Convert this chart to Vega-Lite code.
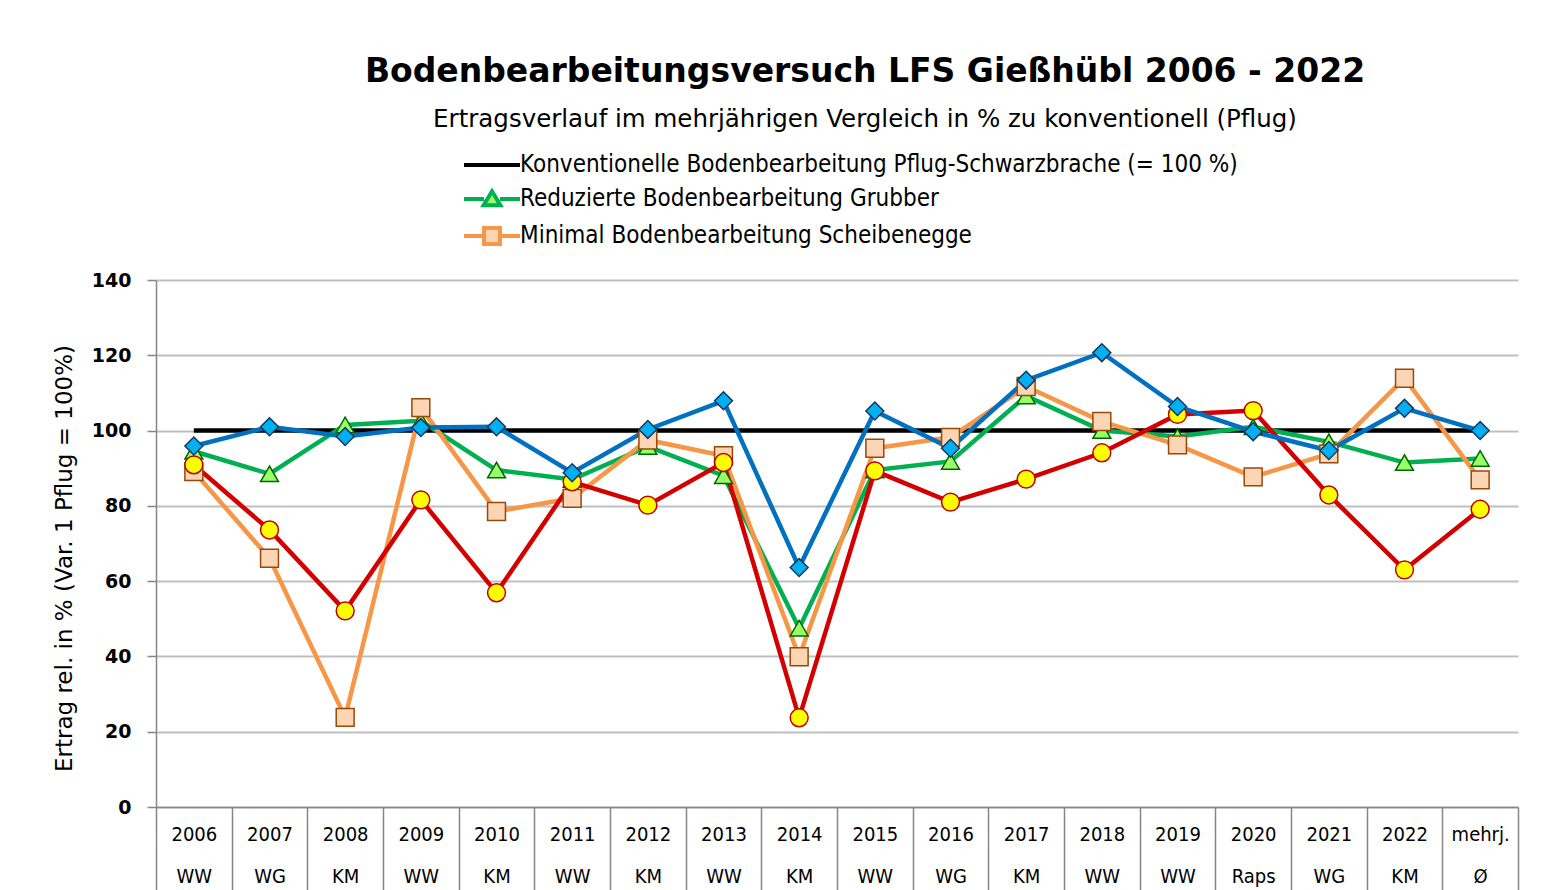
{
  "$schema": "https://vega.github.io/schema/vega-lite/v6.json",
  "width": 1362,
  "height": 527,
  "autosize": {"type": "none"},
  "padding": {"left": 156, "top": 280, "right": 39, "bottom": 83},
  "background": "white",
  "title": {
    "text": "Bodenbearbeitungsversuch LFS Gießhübl 2006 - 2022",
    "subtitle": "Ertragsverlauf im mehrjährigen Vergleich in % zu konventionell (Pflug)",
    "frame": "group",
    "anchor": "middle",
    "dx": 28,
    "offset": 18,
    "font": "DejaVu Sans",
    "fontSize": 33,
    "fontWeight": "bold",
    "color": "#000000",
    "subtitleFont": "DejaVu Sans",
    "subtitleFontSize": 24.5,
    "subtitleColor": "#000000",
    "subtitlePadding": 19
  },
  "data": {"values": [
    {"jahr": "2006", "kultur": "WW", "serie": "K", "wert": 100},
    {"jahr": "2007", "kultur": "WG", "serie": "K", "wert": 100},
    {"jahr": "2008", "kultur": "KM", "serie": "K", "wert": 100},
    {"jahr": "2009", "kultur": "WW", "serie": "K", "wert": 100},
    {"jahr": "2010", "kultur": "KM", "serie": "K", "wert": 100},
    {"jahr": "2011", "kultur": "WW", "serie": "K", "wert": 100},
    {"jahr": "2012", "kultur": "KM", "serie": "K", "wert": 100},
    {"jahr": "2013", "kultur": "WW", "serie": "K", "wert": 100},
    {"jahr": "2014", "kultur": "KM", "serie": "K", "wert": 100},
    {"jahr": "2015", "kultur": "WW", "serie": "K", "wert": 100},
    {"jahr": "2016", "kultur": "WG", "serie": "K", "wert": 100},
    {"jahr": "2017", "kultur": "KM", "serie": "K", "wert": 100},
    {"jahr": "2018", "kultur": "WW", "serie": "K", "wert": 100},
    {"jahr": "2019", "kultur": "WW", "serie": "K", "wert": 100},
    {"jahr": "2020", "kultur": "Raps", "serie": "K", "wert": 100},
    {"jahr": "2021", "kultur": "WG", "serie": "K", "wert": 100},
    {"jahr": "2022", "kultur": "KM", "serie": "K", "wert": 100},
    {"jahr": "mehrj.", "kultur": "Ø", "serie": "K", "wert": 100},

    {"jahr": "2006", "kultur": "WW", "serie": "G", "wert": 94.5},
    {"jahr": "2007", "kultur": "WG", "serie": "G", "wert": 88.5},
    {"jahr": "2008", "kultur": "KM", "serie": "G", "wert": 101.5},
    {"jahr": "2009", "kultur": "WW", "serie": "G", "wert": 102.6},
    {"jahr": "2010", "kultur": "KM", "serie": "G", "wert": 89.5},
    {"jahr": "2011", "kultur": "WW", "serie": "G", "wert": 87},
    {"jahr": "2012", "kultur": "KM", "serie": "G", "wert": 95.8},
    {"jahr": "2013", "kultur": "WW", "serie": "G", "wert": 88},
    {"jahr": "2014", "kultur": "KM", "serie": "G", "wert": 47.5},
    {"jahr": "2015", "kultur": "WW", "serie": "G", "wert": 89.5},
    {"jahr": "2016", "kultur": "WG", "serie": "G", "wert": 91.8},
    {"jahr": "2017", "kultur": "KM", "serie": "G", "wert": 109.2},
    {"jahr": "2018", "kultur": "WW", "serie": "G", "wert": 100},
    {"jahr": "2019", "kultur": "WW", "serie": "G", "wert": 98.4},
    {"jahr": "2020", "kultur": "Raps", "serie": "G", "wert": 101},
    {"jahr": "2021", "kultur": "WG", "serie": "G", "wert": 97},
    {"jahr": "2022", "kultur": "KM", "serie": "G", "wert": 91.5},
    {"jahr": "mehrj.", "kultur": "Ø", "serie": "G", "wert": 92.6},

    {"jahr": "2006", "kultur": "WW", "serie": "S", "wert": 89.1},
    {"jahr": "2007", "kultur": "WG", "serie": "S", "wert": 66.1},
    {"jahr": "2008", "kultur": "KM", "serie": "S", "wert": 23.8},
    {"jahr": "2009", "kultur": "WW", "serie": "S", "wert": 106.1},
    {"jahr": "2010", "kultur": "KM", "serie": "S", "wert": 78.5},
    {"jahr": "2011", "kultur": "WW", "serie": "S", "wert": 82},
    {"jahr": "2012", "kultur": "KM", "serie": "S", "wert": 97.5},
    {"jahr": "2013", "kultur": "WW", "serie": "S", "wert": 93.3},
    {"jahr": "2014", "kultur": "KM", "serie": "S", "wert": 39.9},
    {"jahr": "2015", "kultur": "WW", "serie": "S", "wert": 95.3},
    {"jahr": "2016", "kultur": "WG", "serie": "S", "wert": 98.2},
    {"jahr": "2017", "kultur": "KM", "serie": "S", "wert": 111.7},
    {"jahr": "2018", "kultur": "WW", "serie": "S", "wert": 102.4},
    {"jahr": "2019", "kultur": "WW", "serie": "S", "wert": 96.2},
    {"jahr": "2020", "kultur": "Raps", "serie": "S", "wert": 87.7},
    {"jahr": "2021", "kultur": "WG", "serie": "S", "wert": 93.8},
    {"jahr": "2022", "kultur": "KM", "serie": "S", "wert": 113.9},
    {"jahr": "mehrj.", "kultur": "Ø", "serie": "S", "wert": 86.9},

    {"jahr": "2006", "kultur": "WW", "serie": "V4", "wert": 90.9},
    {"jahr": "2007", "kultur": "WG", "serie": "V4", "wert": 73.6},
    {"jahr": "2008", "kultur": "KM", "serie": "V4", "wert": 52.1},
    {"jahr": "2009", "kultur": "WW", "serie": "V4", "wert": 81.6},
    {"jahr": "2010", "kultur": "KM", "serie": "V4", "wert": 56.9},
    {"jahr": "2011", "kultur": "WW", "serie": "V4", "wert": 86.4},
    {"jahr": "2012", "kultur": "KM", "serie": "V4", "wert": 80.2},
    {"jahr": "2013", "kultur": "WW", "serie": "V4", "wert": 91.5},
    {"jahr": "2014", "kultur": "KM", "serie": "V4", "wert": 23.7},
    {"jahr": "2015", "kultur": "WW", "serie": "V4", "wert": 89.3},
    {"jahr": "2016", "kultur": "WG", "serie": "V4", "wert": 81},
    {"jahr": "2017", "kultur": "KM", "serie": "V4", "wert": 87.1},
    {"jahr": "2018", "kultur": "WW", "serie": "V4", "wert": 94.1},
    {"jahr": "2019", "kultur": "WW", "serie": "V4", "wert": 104.3},
    {"jahr": "2020", "kultur": "Raps", "serie": "V4", "wert": 105.3},
    {"jahr": "2021", "kultur": "WG", "serie": "V4", "wert": 82.9},
    {"jahr": "2022", "kultur": "KM", "serie": "V4", "wert": 63},
    {"jahr": "mehrj.", "kultur": "Ø", "serie": "V4", "wert": 79.1},

    {"jahr": "2006", "kultur": "WW", "serie": "V5", "wert": 95.9},
    {"jahr": "2007", "kultur": "WG", "serie": "V5", "wert": 101},
    {"jahr": "2008", "kultur": "KM", "serie": "V5", "wert": 98.4},
    {"jahr": "2009", "kultur": "WW", "serie": "V5", "wert": 100.8},
    {"jahr": "2010", "kultur": "KM", "serie": "V5", "wert": 101},
    {"jahr": "2011", "kultur": "WW", "serie": "V5", "wert": 88.8},
    {"jahr": "2012", "kultur": "KM", "serie": "V5", "wert": 100.3},
    {"jahr": "2013", "kultur": "WW", "serie": "V5", "wert": 107.9},
    {"jahr": "2014", "kultur": "KM", "serie": "V5", "wert": 63.6},
    {"jahr": "2015", "kultur": "WW", "serie": "V5", "wert": 105.2},
    {"jahr": "2016", "kultur": "WG", "serie": "V5", "wert": 95.3},
    {"jahr": "2017", "kultur": "KM", "serie": "V5", "wert": 113.4},
    {"jahr": "2018", "kultur": "WW", "serie": "V5", "wert": 120.7},
    {"jahr": "2019", "kultur": "WW", "serie": "V5", "wert": 106.4},
    {"jahr": "2020", "kultur": "Raps", "serie": "V5", "wert": 99.7},
    {"jahr": "2021", "kultur": "WG", "serie": "V5", "wert": 94.7},
    {"jahr": "2022", "kultur": "KM", "serie": "V5", "wert": 105.9},
    {"jahr": "mehrj.", "kultur": "Ø", "serie": "V5", "wert": 100}
  ]},
  "transform": [
    {"calculate": "datum.jahr + '|' + datum.kultur", "as": "kategorie"},
    {"lookup": "serie", "from": {"data": {"values": [
      {"serie": "K", "name": "Konventionelle Bodenbearbeitung  Pflug-Schwarzbrache (= 100 %)"},
      {"serie": "G", "name": "Reduzierte Bodenbearbeitung Grubber"},
      {"serie": "S", "name": "Minimal Bodenbearbeitung Scheibenegge"},
      {"serie": "V4", "name": "Variante 4"},
      {"serie": "V5", "name": "Variante 5"}
    ]}, "key": "serie", "fields": ["name"]}}
  ],
  "encoding": {
    "x": {
      "field": "kategorie",
      "type": "nominal",
      "sort": null,
      "scale": {"type": "band", "paddingInner": 0, "paddingOuter": 0},
      "axis": {
        "title": null,
        "labelExpr": "split(datum.label, '|')",
        "labelAngle": 0,
        "labelFont": "DejaVu Sans Condensed, Roboto",
        "labelFontSize": 20,
        "labelLineHeight": 42,
        "labelColor": "#000000",
        "labelPadding": -83,
        "labelOverlap": false,
        "labelFlush": false,
        "tickBand": "extent",
        "tickSize": 100,
        "tickColor": "#868686",
        "tickWidth": 1.5,
        "domainColor": "#868686",
        "domainWidth": 1.5,
        "grid": false
      }
    },
    "y": {
      "field": "wert",
      "type": "quantitative",
      "scale": {"domain": [0, 140], "nice": false},
      "axis": {
        "values": [0, 20, 40, 60, 80, 100, 120, 140],
        "title": "Ertrag rel. in %  (Var. 1 Pflug = 100%)",
        "titleFont": "DejaVu Sans",
        "titleFontSize": 23,
        "titleFontWeight": "normal",
        "titleColor": "#000000",
        "titlePadding": 15,
        "titleY": 278,
        "labelFont": "DejaVu Sans",
        "labelFontSize": 19,
        "labelFontWeight": "bold",
        "labelColor": "#000000",
        "labelPadding": 16,
        "tickSize": 9,
        "tickColor": "#868686",
        "tickWidth": 1.5,
        "domainColor": "#868686",
        "domainWidth": 1.5,
        "gridColor": "#BFBFBF",
        "gridWidth": 2
      }
    }
  },
  "layer": [
    {
      "mark": {"type": "line", "strokeWidth": 4.5},
      "encoding": {
        "detail": {"field": "serie"},
        "strokeWidth": {
          "condition": {"test": "datum.serie == 'K'", "value": 6},
          "value": 4.5
        },
        "color": {
          "field": "name",
          "type": "nominal",
          "sort": null,
          "scale": {
            "domain": [
              "Konventionelle Bodenbearbeitung  Pflug-Schwarzbrache (= 100 %)",
              "Reduzierte Bodenbearbeitung Grubber",
              "Minimal Bodenbearbeitung Scheibenegge",
              "Variante 4",
              "Variante 5"
            ],
            "range": ["#000000", "#00B050", "#F79646", "#D40000", "#0070C0"]
          },
          "legend": {
            "values": [
              "Konventionelle Bodenbearbeitung  Pflug-Schwarzbrache (= 100 %)",
              "Reduzierte Bodenbearbeitung Grubber",
              "Minimal Bodenbearbeitung Scheibenegge"
            ],
            "orient": "none",
            "legendX": 306,
            "legendY": -131,
            "title": null,
            "labelFont": "DejaVu Sans Condensed, Roboto",
            "labelFontSize": 24,
            "labelColor": "#000000",
            "labelLimit": 1000,
            "symbolSize": 784,
            "symbolStrokeWidth": 4,
            "labelOffset": 26,
            "rowPadding": 6,
            "encode": {
              "symbols": {
                "update": {
                  "shape": {"signal": "indexof(datum.value, 'Konventionelle') == 0 ? 'M-1,0H3' : indexof(datum.value, 'Reduzierte') == 0 ? 'M-1,0H0.43M1.57,0H3M1,-0.55L1.6,0.45L0.4,0.45Z' : 'M-1,0H0.43M1.57,0H3M0.43,-0.57H1.57V0.57H0.43Z'"},
                  "fill": {"signal": "indexof(datum.value, 'Reduzierte') == 0 ? '#99FF66' : indexof(datum.value, 'Minimal') == 0 ? '#FCD5B5' : 'transparent'"},
                  "strokeWidth": {"value": 4}
                }
              }
            }
          }
        }
      }
    },
    {
      "transform": [{"filter": "datum.serie != 'K'"}],
      "mark": {"type": "point", "filled": true, "size": 320, "strokeWidth": 1.5, "opacity": 1},
      "encoding": {
        "shape": {
          "field": "serie",
          "type": "nominal",
          "scale": {"domain": ["G", "S", "V4", "V5"], "range": ["triangle-up", "square", "circle", "diamond"]},
          "legend": null
        },
        "fill": {
          "field": "serie",
          "type": "nominal",
          "scale": {"domain": ["G", "S", "V4", "V5"], "range": ["#99FF66", "#FCD5B5", "#FFFF00", "#00B0F0"]},
          "legend": null
        },
        "stroke": {
          "field": "serie",
          "type": "nominal",
          "scale": {"domain": ["G", "S", "V4", "V5"], "range": ["#006600", "#984807", "#C00000", "#17375E"]},
          "legend": null
        }
      }
    }
  ],
  "config": {
    "view": {"stroke": null}
  }
}
